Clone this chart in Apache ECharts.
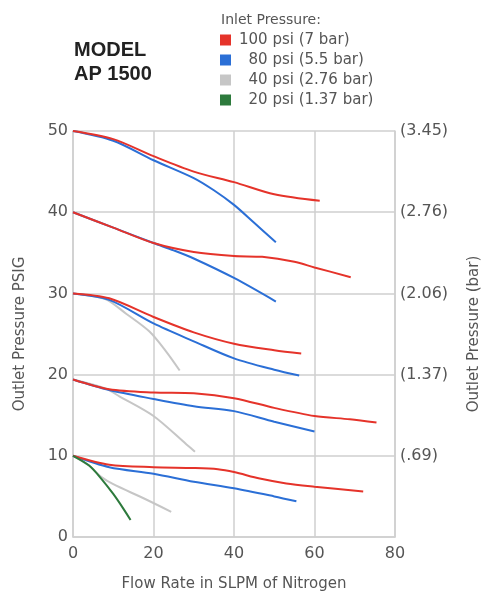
<!DOCTYPE html>
<html>
<head>
<meta charset="utf-8">
<style>
    html, body {
        margin: 0;
        padding: 0;
        overflow: hidden;
        background: #fff;
    }
</style>
</head>
<body>
<div id="chart" style="width:483px; height:594px;"></div>
<script src="https://cdn.jsdelivr.net/npm/echarts@6/dist/echarts.min.js"></script>
<script>
    // tick labels
    var xTicks = [0, 20, 40, 60, 80];
    var psiTicks = [0, 10, 20, 30, 40, 50];
    var barTicks = ['', '(.69)', '(1.37)', '(2.06)', '(2.76)', '(3.45)'];

    // inlet pressures (legend)
    var inletNames = ['100 psi (7 bar)', '80 psi (5.5 bar)', '40 psi (2.76 bar)', '20 psi (1.37 bar)'];
    var inletColors = ['#e5332a', '#2b6fd6', '#c6c6c6', '#2d7a3c'];

    // curves: [flow SLPM, outlet psig]
    var red50 = [[0, 50], [10, 49.0], [20, 46.9], [30, 45.0], [40, 43.7], [50, 42.2], [61.3, 41.4]];
    var blue50 = [[0, 50], [10, 48.8], [20, 46.4], [30, 44.2], [35, 42.7], [40, 40.9], [45, 38.7], [50.4, 36.3]];
    var red40 = [[0, 40], [10, 38.1], [20, 36.2], [30, 35.1], [40, 34.6], [47, 34.5], [55, 33.9], [60, 33.2], [69, 32.0]];
    var blue40 = [[0, 40], [10, 38.1], [20, 36.2], [25, 35.3], [30, 34.3], [40, 31.9], [50.4, 29.0]];
    var red30 = [[0, 30], [9, 29.4], [20, 27.1], [30, 25.2], [40, 23.8], [50, 23.0], [56.7, 22.6]];
    var blue30 = [[0, 30], [9, 29.2], [20, 26.3], [30, 24.1], [40, 22.0], [50, 20.6], [56.2, 19.9]];
    var grey30 = [[0, 30], [8, 29.3], [13.2, 27.5], [19, 25.3], [23.2, 22.8], [26.5, 20.5]];
    var red20 = [[0, 19.4], [9, 18.2], [20, 17.8], [30, 17.7], [40, 17.1], [50, 15.9], [60, 14.9], [68.8, 14.5], [75.4, 14.1]];
    var blue20 = [[0, 19.4], [9, 18.1], [20, 17.0], [30, 16.1], [40, 15.5], [50, 14.2], [60, 13.0]];
    var grey20 = [[0, 19.4], [8, 18.3], [11.6, 17.3], [20, 14.9], [28.2, 11.4], [30.3, 10.5]];
    var red10 = [[0, 10], [9, 8.9], [20, 8.6], [30, 8.5], [36, 8.35], [40, 8.0], [46.4, 7.2], [53, 6.6], [60, 6.2], [72.1, 5.6]];
    var blue10 = [[0, 10], [9, 8.6], [20, 7.8], [30, 6.8], [40, 6.0], [50, 5.0], [55.5, 4.4]];
    var grey10 = [[0, 10], [4, 8.8], [7, 7.4], [10, 6.5], [17.4, 4.8], [24.4, 3.1]];
    var green10 = [[0, 10], [4, 8.8], [7, 7.2], [10, 5.3], [12.5, 3.5], [14.3, 2.1]];

    var curves = [
        [grey30, 2], [grey20, 2], [grey10, 2],
        [blue50, 1], [blue40, 1], [blue30, 1], [blue20, 1], [blue10, 1],
        [red50, 0], [red40, 0], [red30, 0], [red20, 0], [red10, 0],
        [green10, 3]
    ];

    var font = 'DejaVu Sans';
    var chart = echarts.init(document.getElementById('chart'), null, {renderer: 'canvas'});

    var series = curves.map(function (c) {
        return {
            name: inletNames[c[1]],
            type: 'line',
            data: c[0],
            smooth: 0.3,
            symbol: 'none',
            color: inletColors[c[1]],
            lineStyle: {width: 2, color: inletColors[c[1]]},
            emphasis: {disabled: true}
        };
    });

    chart.setOption({
        backgroundColor: '#fff',
        animation: false,
        title: [{
            text: 'MODEL\nAP 1500',
            left: 74,
            top: 38,
            padding: 0,
            textStyle: {fontFamily: 'Liberation Sans', fontSize: 20, fontWeight: 'bold', color: '#222', lineHeight: 24}
        }, {
            text: 'Inlet Pressure:',
            left: 221,
            top: 13,
            padding: 0,
            textStyle: {fontFamily: font, fontSize: 14, fontWeight: 'normal', color: '#555'}
        }],
        legend: {
            data: inletNames,
            orient: 'vertical',
            left: 220,
            top: 32,
            padding: 0,
            icon: 'rect',
            itemWidth: 11,
            itemHeight: 11,
            itemGap: 4,
            formatter: function (name) {
                return name.indexOf('100') === 0 ? name : '  ' + name;
            },
            textStyle: {fontFamily: font, fontSize: 15, color: '#555', lineHeight: 16, padding: [0, 0, 0, 3]}
        },
        grid: {left: 73, right: 88, top: 131, bottom: 57, outerBoundsMode: 'none'},
        xAxis: {
            type: 'value',
            min: 0,
            max: 80,
            interval: 20,
            name: 'Flow Rate in SLPM of Nitrogen',
            nameLocation: 'middle',
            nameGap: 40,
            nameTextStyle: {fontFamily: font, fontSize: 15, color: '#555'},
            axisLine: {lineStyle: {color: '#cfcfcf', width: 1.5}},
            axisTick: {show: false},
            splitLine: {lineStyle: {color: '#cfcfcf', width: 1.5}},
            axisLabel: {fontFamily: font, fontSize: 16, color: '#555', margin: 9,
                formatter: function (v) { return xTicks.indexOf(v) >= 0 ? String(v) : ''; }}
        },
        yAxis: [{
            type: 'value',
            min: 0,
            max: 50,
            interval: 10,
            position: 'left',
            name: 'Outlet Pressure PSIG',
            nameLocation: 'middle',
            nameGap: 45,
            nameTextStyle: {fontFamily: font, fontSize: 15, color: '#555'},
            axisLine: {show: true, lineStyle: {color: '#cfcfcf', width: 1.5}},
            axisTick: {show: false},
            splitLine: {lineStyle: {color: '#cfcfcf', width: 1.5}},
            axisLabel: {fontFamily: font, fontSize: 16, color: '#555', margin: 5,
                formatter: function (v) { return psiTicks.indexOf(v) >= 0 ? String(v) : ''; }}
        }, {
            type: 'value',
            min: 0,
            max: 50,
            interval: 10,
            position: 'right',
            name: 'Outlet Pressure (bar)',
            nameLocation: 'middle',
            nameGap: 72,
            nameTextStyle: {fontFamily: font, fontSize: 15, color: '#555'},
            axisLine: {show: true, lineStyle: {color: '#cfcfcf', width: 1.5}},
            axisTick: {show: false},
            splitLine: {show: false},
            axisLabel: {fontFamily: font, fontSize: 16, color: '#555', margin: 5,
                formatter: function (v) { return barTicks[psiTicks.indexOf(v)] || ''; }}
        }],
        series: series
    });
</script>
</body>
</html>
